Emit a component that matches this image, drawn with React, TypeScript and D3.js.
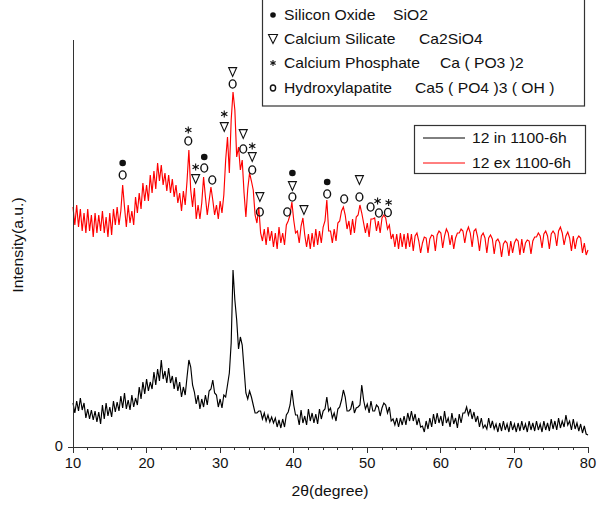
import React from 'react';
import * as d3 from 'd3';

// 2θ grid of the scans (degrees)
const angleStart = 10;
const angleStep = 0.25;

// Series: 12 in 1100-6h (black), intensities
const blackIntensity = [
  44,34,46,36,49,37,44,29,
  38,28,37,27,36,25,35,23,
  42,28,44,31,40,30,46,35,
  45,36,51,39,54,38,47,37,
  52,40,49,42,60,48,65,53,
  68,56,65,58,75,62,78,66,
  87,68,76,64,79,64,71,58,
  70,56,65,50,60,52,70,87,
  80,62,55,43,52,38,48,40,
  52,42,56,58,67,54,52,40,
  48,39,52,50,62,74,104,177,
  147,127,98,110,102,78,54,48,
  56,50,42,34,34,36,36,28,
  34,26,32,25,30,24,29,20,
  27,19,28,20,32,35,42,57,
  42,32,32,22,37,24,31,22,
  38,26,34,24,33,23,38,28,
  36,38,50,36,39,29,34,26,
  38,40,47,57,50,36,36,38,
  46,34,39,40,42,62,47,38,
  43,34,46,36,36,42,40,31,
  39,44,42,34,40,26,28,22,
  29,20,29,22,31,22,34,26,
  36,26,33,22,29,20,21,15,
  26,18,29,20,33,23,34,24,
  31,21,36,24,29,20,34,23,
  29,19,33,24,34,34,40,32,
  38,28,35,25,31,20,29,19,
  22,18,29,19,26,18,23,15,
  24,16,26,17,23,15,26,17,
  23,15,24,16,26,17,23,15,
  26,17,24,16,26,17,23,15,
  26,17,24,16,28,18,26,17,
  29,19,26,20,32,22,26,17,
  28,18,24,16,23,14,21,13,
  12,
];

// Series: 12 ex 1100-6h (red)
const redIntensity = [
  240,222,242,220,238,216,234,214,
  238,216,232,210,234,214,232,216,
  236,214,230,210,234,212,238,222,
  240,222,236,262,240,220,242,224,
  236,222,250,234,254,238,264,246,
  262,246,272,254,276,258,284,266,
  282,262,274,256,272,254,268,250,
  262,244,254,236,256,242,266,297,
  257,240,259,228,242,228,244,270,
  250,232,246,260,247,232,242,228,
  246,234,252,287,310,274,327,355,
  337,290,300,277,287,254,230,258,
  274,266,257,232,224,240,214,206,
  218,202,220,206,216,200,214,198,
  220,204,214,202,222,226,232,245,
  227,214,216,204,221,229,212,200,
  213,198,214,200,218,202,216,204,
  220,226,247,216,216,204,218,206,
  224,226,236,240,232,218,226,212,
  228,214,230,232,242,234,224,214,
  224,210,228,228,229,216,226,214,
  229,232,229,218,222,208,213,200,
  213,198,214,200,213,198,214,200,
  213,196,211,214,206,194,204,210,
  209,194,208,212,211,196,212,216,
  214,199,211,218,214,202,212,198,
  209,214,214,218,216,204,215,220,
  214,200,216,218,210,196,211,214,
  209,194,209,212,208,193,206,208,
  204,190,203,206,204,191,206,194,
  204,208,206,192,208,194,204,207,
  206,193,206,210,210,214,211,199,
  213,216,211,198,213,216,213,201,
  216,220,214,202,211,215,209,196,
  211,198,208,211,209,194,204,192,
  197,
];

const seriesNames = ['12 in 1100-6h', '12 ex 1100-6h'];
const seriesColors = ['#000000', '#ff0000'];

const xTicks = [10, 20, 30, 40, 50, 60, 70, 80];
const xMinorTicks = d3.range(10, 80.001, 2);
const yTicks = [0];

// Phase legend
const phaseSymbols = ['dot', 'tri', 'star', 'ring'];
const phaseNames = ['Silicon Oxide', 'Calcium Silicate', 'Calcium Phosphate', 'Hydroxylapatite'];
const phaseFormulas = ['SiO2', 'Ca2SiO4', 'Ca ( PO3 )2', 'Ca5 ( PO4 )3 ( OH )'];

// Peak markers: 2θ, height (intensity units), symbol
const markerAngles = [
  16.75, 16.75,
  25.67, 25.67,
  26.67, 26.67, 27.84, 27.84, 28.93,
  30.56, 30.56,
  31.7, 31.7,
  33.14, 33.14,
  34.36, 34.36, 34.36,
  35.4, 35.4,
  39.12, 39.82, 39.82, 39.82, 41.39,
  44.55, 44.55,
  46.86,
  48.93, 48.93,
  50.45, 51.4, 51.58, 52.9, 52.8,
];
const markerLevels = [
  284, 272,
  317, 306,
  280, 268, 290, 279, 267,
  333, 320,
  375, 363,
  313, 298,
  301, 290, 277,
  250, 235,
  235, 274, 261, 250, 237,
  265, 253,
  248,
  267, 250,
  240, 246, 234, 244.5, 234.5,
];
const markerSymbols = [
  'dot', 'ring',
  'star', 'ring',
  'star', 'tri', 'dot', 'ring', 'ring',
  'star', 'tri',
  'tri', 'ring',
  'tri', 'ring',
  'star', 'tri', 'ring',
  'tri', 'ring',
  'ring', 'dot', 'tri', 'ring', 'tri',
  'dot', 'ring',
  'ring',
  'tri', 'ring',
  'ring', 'star', 'ring', 'star', 'ring',
];

const FONT = 'Liberation Sans, Arial, Helvetica, sans-serif';

function Sym({ kind, x, y, small = false }: { kind: string; x: number; y: number; small?: boolean }) {
  const ink = '#111';
  if (kind === 'dot') return <circle cx={x} cy={y} r={small ? 2.8 : 3.3} fill={ink} />;
  if (kind === 'ring')
    return <ellipse cx={x} cy={y} rx={small ? 2.6 : 3.4} ry={small ? 3 : 4.1} fill="none" stroke={ink} strokeWidth={1.4} />;
  if (kind === 'tri') {
    const w = small ? 4.5 : 4;
    const h = small ? 4.5 : 4.4;
    return (
      <path
        d={`M${x - w},${y - h}L${x + w},${y - h}L${x},${y + h}Z`}
        fill="none"
        stroke={ink}
        strokeWidth={1.1}
        strokeLinejoin="miter"
      />
    );
  }
  // star (asterisk)
  const r = small ? 3 : 3.6;
  const arms = [90, 30, -30];
  return (
    <g stroke={ink} strokeWidth={1.1}>
      {arms.map((a) => {
        const rad = (a * Math.PI) / 180;
        const dx = Math.cos(rad) * r;
        const dy = Math.sin(rad) * r;
        return <line key={a} x1={x - dx} y1={y - dy} x2={x + dx} y2={y + dy} />;
      })}
    </g>
  );
}

function T({
  x,
  y,
  size = 14,
  anchor = 'start',
  sx = 1.12,
  rotate = 0,
  children,
}: {
  x: number;
  y: number;
  size?: number;
  anchor?: string;
  sx?: number;
  rotate?: number;
  children: React.ReactNode;
}) {
  return (
    <text
      transform={`translate(${x},${y}) rotate(${rotate}) scale(${sx},1)`}
      fontSize={size}
      fontFamily={FONT}
      textAnchor={anchor as any}
      dominantBaseline="central"
      fill="#111"
    >
      {children}
    </text>
  );
}

export default function App() {
  const W = 598;
  const H = 512;
  const left = 73;
  const right = 588;
  const bottom = 447;
  const top = 40;

  const x = d3.scaleLinear().domain([10, 80]).range([left, right]);
  const y = d3.scaleLinear().domain([0, 400]).range([bottom, 47]);

  const line = d3
    .line<number>()
    .x((_, i) => x(angleStart + i * angleStep))
    .y((d) => y(d));

  const series = [blackIntensity, redIntensity];

  const legendRows = [15, 39, 63, 88];
  const formulaX = [393, 419, 440, 415];

  return (
    <svg
      width={W}
      height={H}
      viewBox={`0 0 ${W} ${H}`}
      style={{ position: 'absolute', left: 0, top: 0, background: '#fff' }}
    >
      <rect x={0} y={0} width={W} height={H} fill="#fff" />

      {/* series */}
      {series.map((s, k) => (
        <path key={k} d={line(s) || ''} fill="none" stroke={seriesColors[k]} strokeWidth={1.15} strokeLinejoin="miter" />
      ))}

      {/* axes */}
      <g stroke="#333" strokeWidth={1} shapeRendering="crispEdges">
        <line x1={left} y1={top} x2={left} y2={bottom} />
        <line x1={left} y1={bottom} x2={right} y2={bottom} />
        {xMinorTicks.map((t) => (
          <line key={'m' + t} x1={x(t)} y1={bottom} x2={x(t)} y2={bottom + 3} />
        ))}
        {xTicks.map((t) => (
          <line key={'M' + t} x1={x(t)} y1={bottom} x2={x(t)} y2={bottom + 6} />
        ))}
        {yTicks.map((t) => (
          <line key={'y' + t} x1={left - 5} y1={y(t)} x2={left} y2={y(t)} />
        ))}
      </g>
      {xTicks.map((t) => (
        <T key={'l' + t} x={x(t)} y={463} anchor="middle" size={14} sx={1.05}>
          {t}
        </T>
      ))}
      {yTicks.map((t) => (
        <T key={'yl' + t} x={left - 10} y={y(t) - 1} anchor="end" size={14} sx={1.05}>
          {t}
        </T>
      ))}
      <T x={330} y={491} anchor="middle" size={15} sx={1.05}>
        2θ(degree)
      </T>
      <T x={18} y={245} anchor="middle" size={15} sx={1.05} rotate={-90}>
        Intensity(a.u.)
      </T>

      {/* peak markers */}
      {markerAngles.map((a, i) => (
        <Sym key={'pk' + i} kind={markerSymbols[i]} x={x(a)} y={y(markerLevels[i])} />
      ))}

      {/* phase legend */}
      <rect x={262.5} y={-2} width={322} height={108} fill="#fff" stroke="#333" strokeWidth={1.2} />
      {phaseNames.map((n, i) => (
        <g key={n}>
          <Sym kind={phaseSymbols[i]} x={273} y={legendRows[i]} small />
          <T x={284} y={legendRows[i]} size={14}>
            {n}
          </T>
          <T x={formulaX[i]} y={legendRows[i]} size={14}>
            {phaseFormulas[i]}
          </T>
        </g>
      ))}

      {/* series legend */}
      <rect x={414.5} y={125.5} width={171} height={48} fill="#fff" stroke="#333" strokeWidth={1.2} />
      {seriesNames.map((n, i) => (
        <g key={n}>
          <line x1={423} x2={465} y1={138 + i * 25} y2={138 + i * 25} stroke={seriesColors[i]} strokeWidth={1} />
          <T x={472} y={138 + i * 25} size={14}>
            {n}
          </T>
        </g>
      ))}
    </svg>
  );
}
